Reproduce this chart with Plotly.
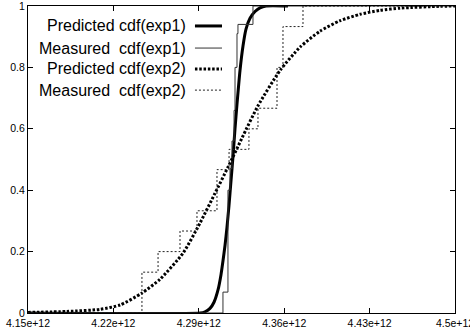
import plotly.graph_objects as go

# ---- axis ticks ----
x_ticks = [4.15e12, 4.22e12, 4.29e12, 4.36e12, 4.43e12, 4.5e12]
x_tick_labels = ["4.15e+12", "4.22e+12", "4.29e+12", "4.36e+12", "4.43e+12", "4.5e+12"]
y_ticks = [0, 0.2, 0.4, 0.6, 0.8, 1.0]
y_tick_labels = ["0", "0.2", "0.4", "0.6", "0.8", "1"]

# ---- series ----
pred1_x = [4.15e12, 4.29098e12, 4.29508e12, 4.29918e12, 4.30246e12, 4.30574e12, 4.30820e12,
           4.30984e12, 4.31148e12, 4.31311e12, 4.31475e12, 4.31639e12, 4.31803e12, 4.31967e12,
           4.32131e12, 4.32377e12, 4.32623e12, 4.32869e12, 4.33197e12, 4.33607e12, 4.34016e12,
           4.34508e12, 4.36311e12]
pred1_y = [0.0, 0.0, 0.004, 0.015, 0.035, 0.075, 0.125,
           0.17, 0.22, 0.28, 0.35, 0.43, 0.51, 0.60,
           0.68, 0.79, 0.87, 0.925, 0.96, 0.982, 0.994,
           1.0, 1.0]

meas1_x = [4.15e12, 4.3098e12, 4.3139e12, 4.3156e12, 4.3172e12, 4.3189e12, 4.3197e12,
           4.3213e12, 4.3221e12, 4.3344e12, 4.5e12]
meas1_y = [0.0, 0.068, 0.40, 0.47, 0.56, 0.66, 0.80, 0.91, 0.94, 1.0, 1.0]

pred2_x = [4.15e12, 4.18197e12, 4.20902e12, 4.22541e12, 4.24344e12, 4.25820e12, 4.27705e12,
           4.29098e12, 4.30328e12, 4.31393e12, 4.32541e12, 4.33852e12, 4.35656e12, 4.37295e12,
           4.38934e12, 4.40574e12, 4.42213e12, 4.43852e12, 4.45492e12, 4.48770e12, 4.5e12]
pred2_y = [0.002, 0.005, 0.012, 0.026, 0.065, 0.11, 0.195,
           0.293, 0.39, 0.475, 0.57, 0.675, 0.79, 0.866,
           0.918, 0.952, 0.973, 0.986, 0.993, 0.999, 1.0]

meas2_x = [4.15e12, 4.2434e12, 4.2566e12, 4.2746e12, 4.2885e12, 4.3049e12, 4.3148e12,
           4.3311e12, 4.3385e12, 4.3541e12, 4.3590e12, 4.3754e12, 4.5e12]
meas2_y = [0.0, 0.133, 0.2, 0.267, 0.333, 0.467, 0.533, 0.6, 0.667, 0.8, 0.933, 1.0, 1.0]

series_names = ["Predicted cdf(exp1)", "Measured\u00a0 cdf(exp1)",
                "Predicted cdf(exp2)", "Measured\u00a0 cdf(exp2)"]

styles = [
    dict(color="black", width=3, dash="solid"),
    dict(color="#333333", width=1, dash="solid"),
    dict(color="black", width=3, dash="2.5px,1.8px"),
    dict(color="#222222", width=1, dash="2px,2px"),
]

fig = go.Figure()
fig.add_trace(go.Scatter(x=pred1_x, y=pred1_y, mode="lines", name=series_names[0],
                         line=dict(**styles[0], shape="spline", smoothing=0.6)))
fig.add_trace(go.Scatter(x=meas1_x, y=meas1_y, mode="lines", name=series_names[1],
                         line=dict(**styles[1], shape="hv")))
fig.add_trace(go.Scatter(x=pred2_x, y=pred2_y, mode="lines", name=series_names[2],
                         line=dict(**styles[2], shape="spline", smoothing=0.6)))
fig.add_trace(go.Scatter(x=meas2_x, y=meas2_y, mode="lines", name=series_names[3],
                         line=dict(**styles[3], shape="hv")))

# manual gnuplot-style legend (text right-aligned, sample to the right)
legend_rows_y = [0.935, 0.863, 0.795, 0.726]
for name, st, ry in zip(series_names, styles, legend_rows_y):
    fig.add_annotation(x=0.3747, y=ry, xref="paper", yref="paper", text=name,
                       showarrow=False, xanchor="right", yanchor="middle",
                       font=dict(family="Liberation Sans, Arial, sans-serif", size=16, color="black"))
    fig.add_shape(type="line", xref="paper", yref="paper", x0=0.391, x1=0.4543, y0=ry, y1=ry,
                  line=dict(color=st["color"], width=st["width"], dash=st["dash"]))

axis_common = dict(showline=True, linecolor="black", linewidth=1, mirror="ticks",
                   ticks="inside", ticklen=5, tickcolor="black", tickwidth=1,
                   showgrid=False, zeroline=False, ticklabeloverflow="allow",
                   automargin=False,
                   tickfont=dict(family="Liberation Sans, Arial, sans-serif", size=10.5, color="black"))

fig.update_layout(
    width=470, height=332,
    margin=dict(l=28, r=15, t=6, b=19),
    paper_bgcolor="white", plot_bgcolor="white",
    showlegend=False,
    xaxis=dict(range=[4.15e12, 4.5e12], tickvals=x_ticks, ticktext=x_tick_labels, **axis_common),
    yaxis=dict(range=[0, 1], tickvals=y_ticks, ticktext=y_tick_labels, **axis_common),
)

fig.write_html("out.html", config={"displayModeBar": False, "staticPlot": True},
               post_script="document.body.style.margin='0';document.body.style.padding='0';"
                           "document.body.style.overflow='hidden';")
